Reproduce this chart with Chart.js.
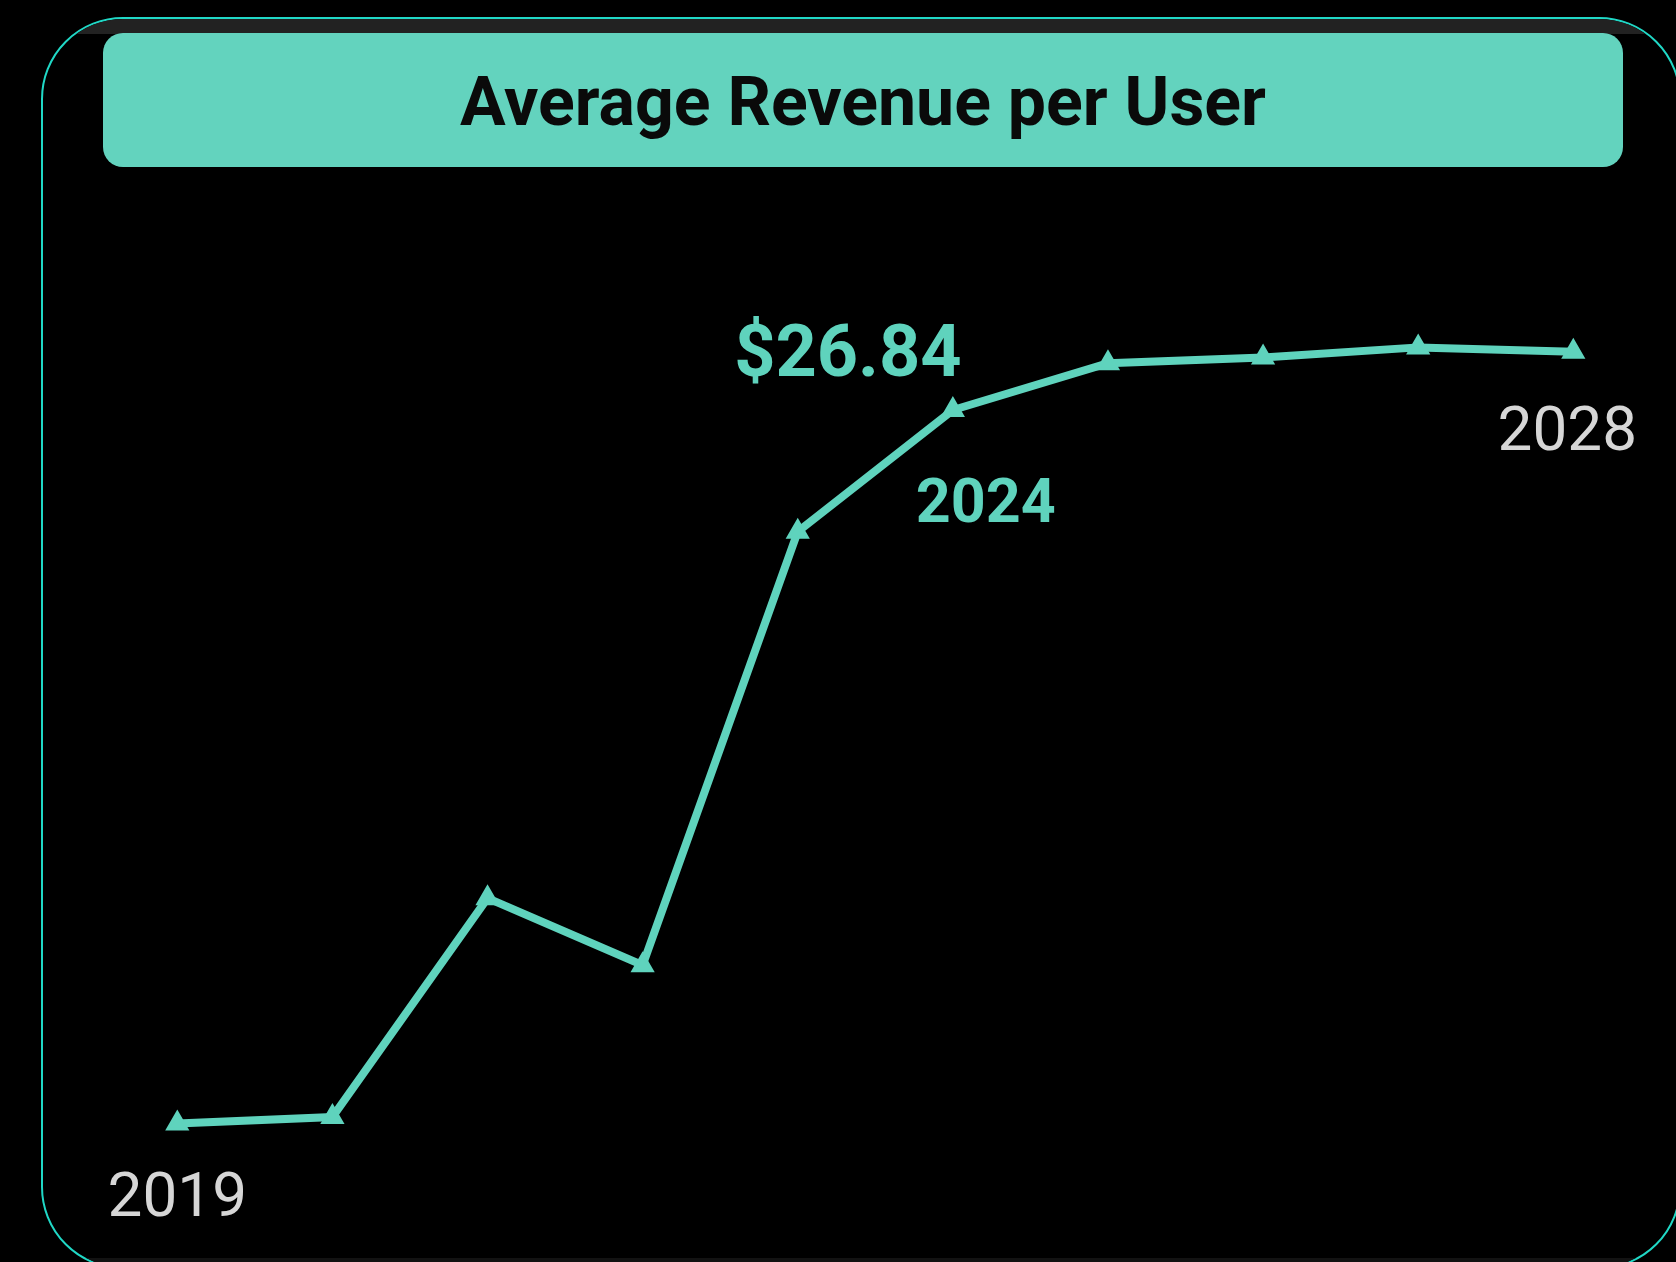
<!DOCTYPE html>
<html>
<head>
<meta charset="utf-8">
<script src="https://cdn.jsdelivr.net/npm/chart.js@4"></script>
<style>
  html, body { margin: 0; padding: 0; background: #000; }
  body { width: 1676px; height: 1262px; position: relative; overflow: hidden; }
  .card {
    position: absolute; left: 41px; top: 17px;
    width: 1640px; height: 1252px;
    box-sizing: border-box;
    border: 2px solid #20d8c6;
    border-radius: 82px;
    background: #000;
    overflow: hidden;
  }
  .card .band { position: absolute; left: 0; right: 0; top: 0; height: 15px; background: #222; }
  .card .band-bottom { position: absolute; left: 0; right: 0; top: 1239px; height: 14px; background: #121212; }
  .title {
    position: absolute; left: 60px; top: 14px;
    width: 1520px; height: 134px;
    border-radius: 20px;
    background: #63d3be;
    color: #0a0a0a;
    font: bold 68px Roboto, sans-serif;
    line-height: 138px;
    text-align: center;
  }
  #chart { position: absolute; left: 0; top: 0; }
</style>
</head>
<body>
<div class="card">
  <div class="band"></div>
  <div class="band-bottom"></div>
  <div class="title">Average Revenue per User</div>
</div>
<canvas id="chart" width="1676" height="1262"></canvas>
<script>
const years = ['2019', '2020', '2021', '2022', '2023', '2024', '2025', '2026', '2027', '2028'];
const arpu = [16.93, 17.02, 20.06, 19.13, 25.15, 26.84, 27.49, 27.57, 27.71, 27.65];
const yMin = 16;
const yMax = 29;

const teal = '#5fd3bd';
const grey = '#d6d6d6';

// text drawn next to selected points
const pointLabels = [
  { index: 0, text: years[0], dx: 0, dy: 92, font: '400 62px Roboto', color: grey },
  { index: 5, text: '$' + arpu[5].toFixed(2), dx: -105, dy: -34, font: 'bold 72px Roboto', color: teal },
  { index: 5, text: years[5], dx: 33, dy: 112, font: 'bold 61px Roboto', color: teal },
  { index: 9, text: years[9], dx: -6, dy: 98, font: '400 62px Roboto', color: grey },
];

const labelPlugin = {
  id: 'pointLabels',
  afterDatasetsDraw(chart) {
    const ctx = chart.ctx;
    const points = chart.getDatasetMeta(0).data;
    ctx.save();
    ctx.textAlign = 'center';
    ctx.textBaseline = 'alphabetic';
    pointLabels.forEach(l => {
      const p = points[l.index];
      ctx.font = l.font;
      ctx.fillStyle = l.color;
      ctx.fillText(l.text, p.x + l.dx, p.y + l.dy);
    });
    ctx.restore();
  }
};

new Chart(document.getElementById('chart'), {
  type: 'line',
  data: {
    labels: years,
    datasets: [{
      data: arpu,
      borderColor: teal,
      borderWidth: 8,
      backgroundColor: teal,
      pointStyle: 'triangle',
      pointRadius: 11,
      pointBorderWidth: 3,
      pointBorderColor: teal,
      pointBackgroundColor: teal,
      tension: 0,
      clip: false,
    }]
  },
  options: {
    responsive: false,
    animation: false,
    devicePixelRatio: 1,
    layout: {
      padding: { left: 177.3, right: 102.7, top: 254.5, bottom: 71.5 }
    },
    plugins: {
      legend: { display: false },
      tooltip: { enabled: false },
    },
    scales: {
      x: { display: false, offset: false },
      y: { display: false, min: yMin, max: yMax },
    },
  },
  plugins: [labelPlugin],
});
</script>
</body>
</html>
